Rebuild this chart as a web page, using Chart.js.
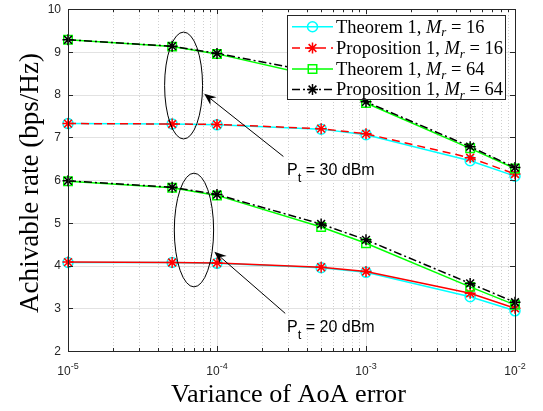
<!DOCTYPE html>
<html><head><meta charset="utf-8">
<script src="https://cdn.jsdelivr.net/npm/chart.js@4/dist/chart.umd.min.js"></script>
<style>html,body{margin:0;padding:0;background:#fff}canvas{display:block}</style>
</head><body>
<canvas id="c" width="543" height="411"></canvas>
<script>
// ---------- data ----------
const variance = [1e-5, 5e-5, 1e-4, 5e-4, 1e-3, 5e-3, 1e-2];
// Pt = 30 dBm
const thm16_30  = [7.32, 7.31, 7.29, 7.19, 7.06, 6.45, 6.09];
const prop16_30 = [7.32, 7.31, 7.30, 7.20, 7.08, 6.52, 6.14];
const thm64_30  = [9.28, 9.12, 8.95, 8.40, 7.80, 6.74, 6.27];
const prop64_30 = [9.28, 9.13, 8.96, 8.50, 7.83, 6.78, 6.29];
// Pt = 20 dBm
const thm16_20  = [4.07, 4.07, 4.05, 3.95, 3.84, 3.27, 2.94];
const prop16_20 = [4.08, 4.07, 4.06, 3.96, 3.86, 3.35, 3.00];
const thm64_20  = [5.97, 5.82, 5.64, 4.90, 4.52, 3.50, 3.08];
const prop64_20 = [5.98, 5.83, 5.66, 4.97, 4.60, 3.58, 3.14];

const yTickValues = [2, 3, 4, 5, 6, 7, 8, 9, 10];
const xTickValues = [1e-5, 1e-4, 1e-3, 1e-2];
const xTickBase = ['10', '10', '10', '10'];
const xTickExp = ['-5', '-4', '-3', '-2'];
const seriesNames = ['Theorem 1', 'Proposition 1', 'Theorem 1', 'Proposition 1'];
const seriesMr = ['16', '16', '64', '64'];
const xTitle = 'Variance of AoA error';
const yTitle = 'Achivable rate (bps/Hz)';
const ptLabels = ['30 dBm', '20 dBm'];
// annotation anchors (data coordinates)
const ellipses = [
  {x0: 4.45e-5, x1: 8.0e-5, y0: 6.96, y1: 9.46},
  {x0: 5.17e-5, x1: 9.49e-5, y0: 3.50, y1: 6.16}
];
const arrows = [
  {fx: 2.79e-4, fy: 6.55, tx: 8.2e-5, ty: 8.02},
  {fx: 2.87e-4, fy: 2.88, tx: 9.6e-5, ty: 4.32}
];
const labelAnchors = [{x: 2.95e-4, y: 6.12}, {x: 2.95e-4, y: 2.44}];

// ---------- styles ----------
const styles = [
  {color: '#00FFFF', dash: [], marker: 'circle', r: 5},
  {color: '#FF0000', dash: [8, 5], marker: 'star', r: 5.5},
  {color: '#00FF00', dash: [], marker: 'rect', r: 6},
  {color: '#000000', dash: [8, 3, 2, 3], marker: 'star', r: 5.5}
];
// in the figure the Pt = 20 dBm proposition (M=16) curve is drawn solid
const groupDash = [
  [null, null, null, null],
  [null, [], null, null]
];
const groups = [
  [thm16_30, prop16_30, thm64_30, prop64_30],
  [thm16_20, prop16_20, thm64_20, prop64_20]
];
const datasets = [];
groups.forEach((g, gi) => g.forEach((arr, s) => {
  const st = styles[s];
  const dash = groupDash[gi][s] || st.dash;
  datasets.push({
    label: seriesNames[s] + ', Mr = ' + seriesMr[s],
    data: variance.map((v, i) => ({x: v, y: arr[i]})),
    borderColor: st.color, borderDash: dash, borderWidth: 1.5,
    pointStyle: st.marker, pointRadius: st.r, pointHoverRadius: st.r,
    pointBorderColor: st.color, pointBackgroundColor: 'rgba(0,0,0,0)',
    pointBorderWidth: 1.5, tension: 0, fill: false, clip: false,
    order: 3 - s
  });
}));

const AX = '#262626';
const SERIF = '"Liberation Serif", "DejaVu Serif", serif';
const SANS = '"Liberation Sans", Arial, sans-serif';

function drawMarker(ctx, type, x, y, r, color) {
  ctx.save();
  ctx.strokeStyle = color; ctx.lineWidth = 1.5; ctx.setLineDash([]);
  ctx.beginPath();
  if (type === 'circle') { ctx.arc(x, y, r, 0, Math.PI * 2); }
  else if (type === 'rect') { const s = r * Math.SQRT1_2; ctx.rect(x - s, y - s, 2 * s, 2 * s); }
  else {
    for (let k = 0; k < 4; k++) {
      const a = k * Math.PI / 4;
      ctx.moveTo(x - r * Math.cos(a), y - r * Math.sin(a));
      ctx.lineTo(x + r * Math.cos(a), y + r * Math.sin(a));
    }
  }
  ctx.stroke();
  ctx.restore();
}

function richRuns(name, mr) {
  return [
    {t: name + ', ', st: ''}, {t: 'M', st: 'italic '}, {t: 'r', st: 'italic ', sub: true}, {t: ' = ' + mr, st: ''}
  ];
}
function runsWidth(ctx, runs, F) {
  let w = 0;
  runs.forEach(r => { ctx.font = r.st + (r.sub ? F * 0.7 : F) + 'px ' + SERIF; w += ctx.measureText(r.t).width; });
  return w;
}
function drawRuns(ctx, runs, x, y, F) {
  runs.forEach(r => {
    ctx.font = r.st + (r.sub ? F * 0.7 : F) + 'px ' + SERIF;
    ctx.fillText(r.t, x, r.sub ? y + F * 0.2 : y);
    x += ctx.measureText(r.t).width;
  });
}
function fitFont(ctx, text, target, family) {
  ctx.font = '20px ' + family;
  return 20 * target / ctx.measureText(text).width;
}

const plugin = {
  id: 'matlabLook',
  beforeDatasetsDraw(chart) {
    const {ctx, chartArea: a, scales: {x, y}} = chart;
    ctx.save();
    ctx.lineWidth = 1;
    ctx.strokeStyle = '#cfcfcf'; ctx.setLineDash([1, 2]);
    for (let d = -5; d < -2; d++) for (let k = 2; k <= 9; k++) {
      const px = Math.round(x.getPixelForValue(k * Math.pow(10, d))) + 0.5;
      ctx.beginPath(); ctx.moveTo(px, a.top); ctx.lineTo(px, a.bottom); ctx.stroke();
    }
    ctx.setLineDash([]);
    ctx.strokeStyle = '#e2e2e2';
    xTickValues.forEach(v => {
      const px = Math.round(x.getPixelForValue(v)) + 0.5;
      ctx.beginPath(); ctx.moveTo(px, a.top); ctx.lineTo(px, a.bottom); ctx.stroke();
    });
    yTickValues.forEach(v => {
      const py = Math.round(y.getPixelForValue(v)) + 0.5;
      ctx.beginPath(); ctx.moveTo(a.left, py); ctx.lineTo(a.right, py); ctx.stroke();
    });
    ctx.restore();
  },
  afterDatasetsDraw(chart) {
    const {ctx, scales: {x, y}} = chart;
    ctx.save();
    ctx.strokeStyle = '#000'; ctx.fillStyle = '#000'; ctx.lineWidth = 1; ctx.setLineDash([]);
    ellipses.forEach(e => {
      const l = x.getPixelForValue(e.x0), r = x.getPixelForValue(e.x1);
      const t = y.getPixelForValue(e.y1), b = y.getPixelForValue(e.y0);
      ctx.beginPath();
      ctx.ellipse((l + r) / 2, (t + b) / 2, (r - l) / 2, (b - t) / 2, 0, 0, Math.PI * 2);
      ctx.stroke();
    });
    arrows.forEach(ar => {
      const fx = x.getPixelForValue(ar.fx), fy = y.getPixelForValue(ar.fy);
      const tx = x.getPixelForValue(ar.tx), ty = y.getPixelForValue(ar.ty);
      const ang = Math.atan2(ty - fy, tx - fx);
      const L = 12, W = 5, N = 8;
      const bx = tx - N * Math.cos(ang), by = ty - N * Math.sin(ang);
      ctx.beginPath(); ctx.moveTo(fx, fy); ctx.lineTo(bx, by); ctx.stroke();
      const c = Math.cos(ang), s = Math.sin(ang);
      ctx.beginPath();
      ctx.moveTo(tx, ty);
      ctx.lineTo(tx - L * c + W * s, ty - L * s - W * c);
      ctx.lineTo(bx, by);
      ctx.lineTo(tx - L * c - W * s, ty - L * s + W * c);
      ctx.closePath(); ctx.fill();
    });
    labelAnchors.forEach((p, i) => {
      let px = x.getPixelForValue(p.x), py = y.getPixelForValue(p.y);
      ctx.textAlign = 'left'; ctx.textBaseline = 'alphabetic';
      ctx.font = '16px ' + SANS; ctx.fillText('P', px, py); px += ctx.measureText('P').width;
      ctx.font = '13px ' + SANS; ctx.fillText('t', px, py + 7); px += ctx.measureText('t').width;
      ctx.font = '16px ' + SANS; ctx.fillText(' = ' + ptLabels[i], px, py);
    });
    ctx.restore();
  },
  afterDraw(chart) {
    const {ctx, chartArea: a, scales: {x, y}} = chart;
    ctx.save();
    ctx.strokeStyle = AX; ctx.lineWidth = 1; ctx.setLineDash([]);
    ctx.beginPath();
    for (let d = -5; d <= -2; d++) for (let k = 1; k <= 9; k++) {
      const v = k * Math.pow(10, d);
      if (v > 1e-2 * 1.0001) continue;
      const px = Math.round(x.getPixelForValue(v)) + 0.5;
      const len = k === 1 ? 5 : 3;
      ctx.moveTo(px, a.bottom); ctx.lineTo(px, a.bottom - len);
      ctx.moveTo(px, a.top); ctx.lineTo(px, a.top + len);
    }
    yTickValues.forEach(v => {
      const py = Math.round(y.getPixelForValue(v)) + 0.5;
      ctx.moveTo(a.left, py); ctx.lineTo(a.left + 5, py);
      ctx.moveTo(a.right, py); ctx.lineTo(a.right - 5, py);
    });
    ctx.stroke();
    ctx.strokeRect(Math.round(a.left) + 0.5, Math.round(a.top) + 0.5,
      Math.round(a.right - a.left), Math.round(a.bottom - a.top));
    ctx.fillStyle = AX;
    ctx.font = '12px ' + SANS; ctx.textAlign = 'right'; ctx.textBaseline = 'middle';
    yTickValues.forEach(v => ctx.fillText(String(v), a.left - 7, y.getPixelForValue(v) + 0.5));
    ctx.textAlign = 'left'; ctx.textBaseline = 'alphabetic';
    xTickValues.forEach((v, i) => {
      const px = x.getPixelForValue(v);
      ctx.font = '12px ' + SANS; const wb = ctx.measureText(xTickBase[i]).width;
      ctx.font = '9px ' + SANS; const we = ctx.measureText(xTickExp[i]).width;
      const sx = px - (wb + we) / 2;
      ctx.font = '12px ' + SANS; ctx.fillText(xTickBase[i], sx, a.bottom + 24);
      ctx.font = '9px ' + SANS; ctx.fillText(xTickExp[i], sx + wb, a.bottom + 18);
    });
    ctx.fillStyle = '#000';
    ctx.textAlign = 'center';
    let F = fitFont(ctx, xTitle, 235, SERIF);
    ctx.font = F + 'px ' + SERIF;
    ctx.fillText(xTitle, (a.left + a.right) / 2 - 3, 401.5);
    F = fitFont(ctx, yTitle, 260, SERIF);
    ctx.save();
    ctx.translate(37.5, (a.top + a.bottom) / 2 + 3);
    ctx.rotate(-Math.PI / 2);
    ctx.font = F + 'px ' + SERIF;
    ctx.fillText(yTitle, 0, 0);
    ctx.restore();
    const lx = 287.5, ly = 15.5, lw = 218, lh = 84;
    ctx.fillStyle = '#fff'; ctx.fillRect(lx, ly, lw, lh);
    ctx.strokeStyle = AX; ctx.strokeRect(lx, ly, lw, lh);
    const LF = 167 / runsWidth(ctx, richRuns(seriesNames[1], seriesMr[1]), 1);
    const rows = [26.7, 48, 69, 89.5];
    ctx.textAlign = 'left'; ctx.textBaseline = 'alphabetic';
    styles.forEach((st, s) => {
      const ry = rows[s];
      ctx.strokeStyle = st.color; ctx.lineWidth = 1.5; ctx.setLineDash(st.dash);
      ctx.beginPath(); ctx.moveTo(292, ry); ctx.lineTo(333, ry); ctx.stroke();
      ctx.setLineDash([]);
      drawMarker(ctx, st.marker, 312.5, ry, st.r, st.color);
      ctx.fillStyle = '#000';
      drawRuns(ctx, richRuns(seriesNames[s], seriesMr[s]), 336, ry + 5.8, LF);
    });
    ctx.restore();
  }
};

new Chart(document.getElementById('c'), {
  type: 'line',
  data: {datasets},
  options: {
    responsive: false, devicePixelRatio: 1, animation: false,
    layout: {padding: {left: 68, top: 9, right: 28, bottom: 60}},
    plugins: {legend: {display: false}, tooltip: {enabled: false}},
    scales: {
      x: {type: 'logarithmic', min: 1e-5, max: 1e-2, display: false},
      y: {type: 'linear', min: 2, max: 10, display: false}
    }
  },
  plugins: [plugin]
});
</script>
</body></html>
